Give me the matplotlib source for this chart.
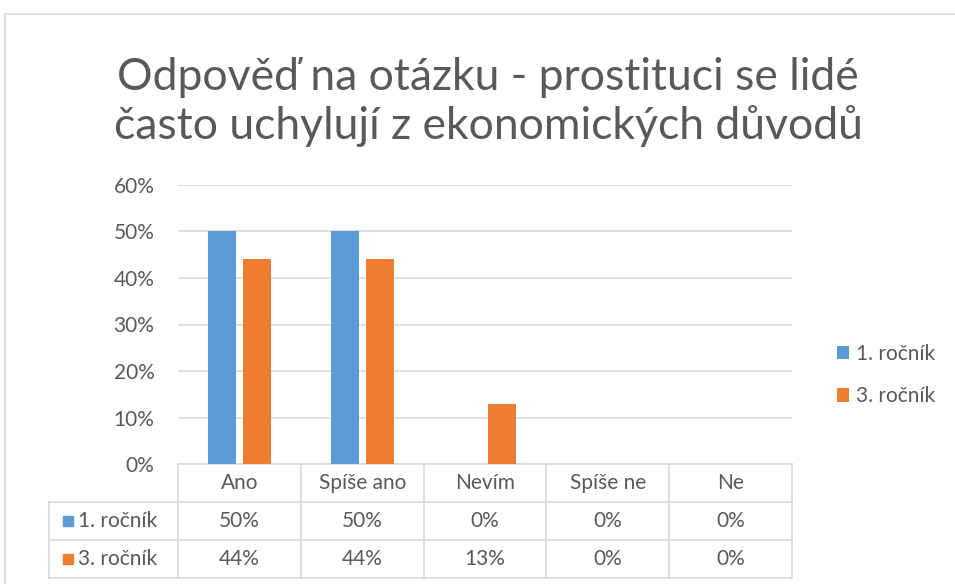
import numpy as np
import matplotlib.pyplot as plt
from matplotlib.patches import Rectangle
from matplotlib.transforms import blended_transform_factory

plt.rcParams['font.family'] = ['Lato', 'DejaVu Sans']

# data
categories = ['Ano', 'Spíše ano', 'Nevím', 'Spíše ne', 'Ne']
series_names = ['1. ročník', '3. ročník']
rocnik1 = [50, 50, 0, 0, 0]
rocnik3 = [44, 44, 13, 0, 0]
colors = ['#5B9BD5', '#ED7D31']
title = 'Odpověď na otázku - prostituci se lidé\nčasto uchylují z ekonomických důvodů'

TXT = '#595959'
GRID = '#D9D9D9'
FS = 15

fig = plt.figure(figsize=(9.55, 5.84), dpi=100)
W, H = 955, 584

def fx(px):
    return px / W

def fy(py):
    return 1 - py / H

# chart border
fig.patches.append(Rectangle((fx(5), fy(700)), 2, fy(14) - fy(700), transform=fig.transFigure,
                             fill=False, edgecolor=GRID, linewidth=1.2))

fig.text(fx(488), fy(102), title, ha='center', va='center', fontsize=32, color=TXT,
         fontweight='normal', linespacing=1.2)

ax = fig.add_axes([fx(178), fy(464), fx(792) - fx(178), fy(185) - fy(464)])
x = np.arange(len(categories))
bw = 0.228
off = 0.142
for i, (vals, name) in enumerate(zip([rocnik1, rocnik3], series_names)):
    ax.bar(x + (i * 2 - 1) * off, vals, bw, color=colors[i], label=name, zorder=3)

ax.set_xlim(-0.5, len(categories) - 0.5)
ax.set_ylim(0, 60)
ax.set_yticks(np.arange(0, 61, 10))
ax.set_yticklabels([f'{v}%' for v in range(0, 61, 10)])
ax.tick_params(axis='y', length=0, pad=17, labelsize=FS, labelcolor=TXT)
ax.set_xticks([])
ax.grid(axis='y', color=GRID, linewidth=1.2, zorder=0)
for s in ax.spines.values():
    s.set_visible(False)

# data table below the axes
tr = blended_transform_factory(ax.transData, ax.transAxes)
ppx = (fy(185) - fy(464)) * H  # axes height in px
upx = 614 / 5  # px per category
row_h = 38 / ppx
left = -0.5 - 129 / upx
lk = dict(color=GRID, linewidth=1.2, transform=tr, clip_on=False)
ax.plot([-0.5, 4.5], [0, 0], **lk)
for r in range(1, 4):
    ax.plot([left, 4.5], [-r * row_h] * 2, **lk)
ax.plot([left, left], [-row_h, -3 * row_h], **lk)
for b in np.arange(-0.5, 5, 1):
    ax.plot([b, b], [0, -3 * row_h], **lk)

for j, c in enumerate(categories):
    ax.text(j, -0.5 * row_h, c, ha='center', va='center', fontsize=FS, color=TXT, transform=tr)
sq_w = 10 / upx
sq_h = 10 / ppx
for i, (vals, name) in enumerate(zip([rocnik1, rocnik3], series_names)):
    yy = -(1.5 + i) * row_h
    ax.text(left + 29 / upx, yy, name, ha='left', va='center', fontsize=FS, color=TXT, transform=tr)
    ax.add_patch(Rectangle((left + 14 / upx, yy - sq_h / 2), sq_w, sq_h, color=colors[i],
                           transform=tr, clip_on=False))
    for j, v in enumerate(vals):
        ax.text(j, yy, f'{v}%', ha='center', va='center', fontsize=FS, color=TXT, transform=tr)

leg = fig.legend(loc='center left', bbox_to_anchor=(fx(818), fy(375)), frameon=False,
                 fontsize=FS, handlelength=0.6, handleheight=0.6, handletextpad=0.3,
                 labelspacing=1.1, labelcolor=TXT)

fig.savefig('out.png', dpi=100)
